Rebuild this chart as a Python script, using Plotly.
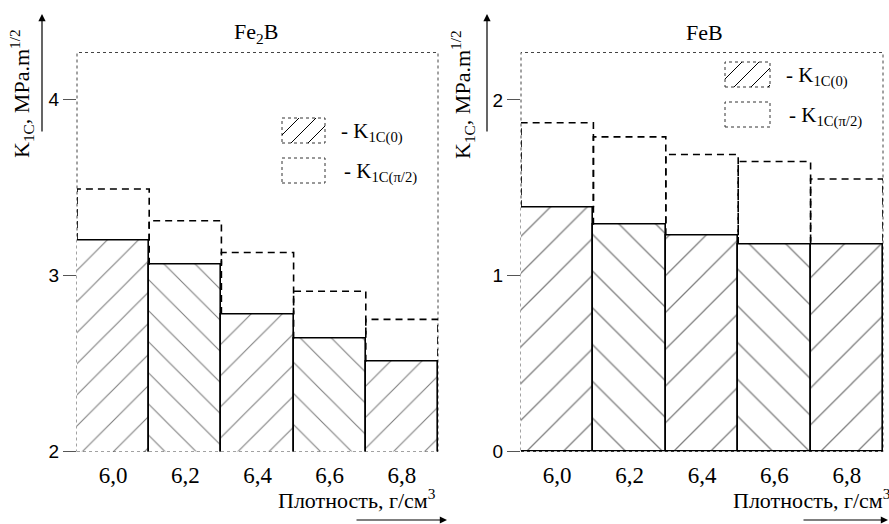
import plotly.graph_objects as go

# ---- data ----
density = [6.0, 6.2, 6.4, 6.6, 6.8]
density_labels = ["6,0", "6,2", "6,4", "6,6", "6,8"]
fe2b_k0 = [3.20, 3.06, 2.78, 2.64, 2.51]
fe2b_kpi2 = [3.49, 3.31, 3.13, 2.91, 2.75]
feb_k0 = [1.39, 1.29, 1.23, 1.18, 1.18]
feb_kpi2 = [1.87, 1.79, 1.69, 1.65, 1.55]
hatches = ["/", "\\", "/", "\\", "/"]
bar_w = 0.2

W, H = 889, 524
SERIF = "Liberation Serif"
SANS = "Liberation Sans"

def px(x):
    return x / W

def py(y):
    return 1 - y / H

fig = go.Figure()

def add_panel(k0, kpi, xa, ya, hsize):
    fig.add_trace(go.Bar(
        x=density, y=k0, width=bar_w, xaxis=xa, yaxis=ya,
        marker=dict(color="white",
                    line=dict(color="black", width=1.6),
                    pattern=dict(shape=hatches, fgcolor="black", bgcolor="white",
                                 size=hsize, solidity=0.05, fillmode="overlay")),
        showlegend=False, hoverinfo="skip"))
    xs, ys = [], []
    for c, a, b in zip(density, k0, kpi):
        xs += [c - bar_w / 2, c - bar_w / 2, c + bar_w / 2, c + bar_w / 2, None]
        ys += [a, b, b, a, None]
    fig.add_trace(go.Scatter(
        x=xs, y=ys, mode="lines", xaxis=xa, yaxis=ya,
        line=dict(color="black", width=1.6, dash="7px,5px"),
        showlegend=False, hoverinfo="skip"))

add_panel(fe2b_k0, fe2b_kpi2, "x", "y", 22)
add_panel(feb_k0, feb_kpi2, "x2", "y2", 26)

ydom = [py(451.5), py(52.5)]
xcommon = dict(range=[5.9, 6.9], tickvals=density, ticktext=density_labels,
               showgrid=False, zeroline=False, showline=False, ticks="",
               ticklabelstandoff=7,
               tickfont=dict(family=SERIF, size=23, color="black"), automargin=False)
ycommon = dict(showgrid=False, zeroline=False, showline=False, ticks="outside",
               ticklen=13, tickwidth=1, tickcolor="#555",
               tickfont=dict(family=SANS, size=19, color="black"), automargin=False)

fig.update_layout(
    width=W, height=H, margin=dict(l=0, r=0, t=0, b=0),
    paper_bgcolor="white", plot_bgcolor="white", template="none",
    font=dict(family=SERIF, color="black"),
    bargap=0,
    xaxis=dict(domain=[px(77), px(438)], anchor="y", **xcommon),
    xaxis2=dict(domain=[px(521), px(883)], anchor="y2", **xcommon),
    yaxis=dict(domain=ydom, anchor="x", range=[2, 4.265], tickvals=[2, 3, 4], **ycommon),
    yaxis2=dict(domain=ydom, anchor="x2", range=[0, 2.27], tickvals=[0, 1, 2], **ycommon),
)

shapes = []
annotations = []

def note(text, x, y, xanchor="center", yanchor="middle", size=22, angle=0):
    annotations.append(dict(text=text, x=px(x), y=py(y), xref="paper", yref="paper",
                            xanchor=xanchor, yanchor=yanchor, textangle=angle,
                            showarrow=False,
                            font=dict(family=SERIF, size=size, color="black")))

# frames
for x0, x1 in [(77, 438), (521, 883)]:
    shapes.append(dict(type="rect", xref="paper", yref="paper",
                       x0=px(x0), x1=px(x1), y0=ydom[0], y1=ydom[1],
                       line=dict(color="#444", width=1, dash="dot"), layer="below"))

# titles
note("Fe<sub>2</sub>B", 256, 33, size=22)
note("FeB", 704, 33, size=22)

# y titles + arrows
for xc, xa in [(21, 42), (462, 487)]:
    note("K<sub>1C</sub>, MPa.m<sup>1/2</sup>", xc, 94, size=22, angle=-90)
    annotations.append(dict(text="", x=px(xa), y=py(14), xref="paper", yref="paper",
                            ax=0, ay=119, axref="pixel", ayref="pixel",
                            showarrow=True, arrowhead=2, arrowsize=1.2, arrowwidth=1.2,
                            arrowcolor="black"))

# x titles + arrows
for xr, a0, a1 in [(438, 355, 447), (893, 802, 888)]:
    note("Плотность, г/см<sup>3</sup>", xr, 499, xanchor="right", size=22)
    annotations.append(dict(text="", x=px(a1), y=py(520), xref="paper", yref="paper",
                            ax=a0 - a1, ay=0, axref="pixel", ayref="pixel",
                            showarrow=True, arrowhead=2, arrowsize=1.2, arrowwidth=1.2,
                            arrowcolor="black"))

# legends (manual swatches)
def clip_hatch(x0, y0, x1, y1, step=14):
    segs = []
    h = y1 - y0
    k = -h
    while k < (x1 - x0):
        t0 = max(0, -k)
        t1 = min(h, (x1 - x0) - k)
        if t1 > t0:
            segs.append((x0 + k + t0, y1 - t0, x0 + k + t1, y1 - t1))
        k += step
    return segs

for (bx0, bx1, by0, by1, by2, by3, tx) in [(282, 325, 118, 143, 158, 183, 339),
                                           (725, 770, 62, 87, 102, 127, 784)]:
    shapes.append(dict(type="rect", xref="paper", yref="paper",
                       x0=px(bx0), x1=px(bx1), y0=py(by1), y1=py(by0),
                       line=dict(color="#333", width=1, dash="dot"), fillcolor="white"))
    for (sx0, sy0, sx1, sy1) in clip_hatch(bx0, by0, bx1, by1, step=17):
        shapes.append(dict(type="line", xref="paper", yref="paper",
                           x0=px(sx0), y0=py(sy0), x1=px(sx1), y1=py(sy1),
                           line=dict(color="black", width=1)))
    shapes.append(dict(type="rect", xref="paper", yref="paper",
                       x0=px(bx0), x1=px(bx1), y0=py(by3), y1=py(by2),
                       line=dict(color="#333", width=1, dash="dot"), fillcolor="white"))
    note("- K<sub>1C(0)</sub>", tx, (by0 + by1) / 2 + 2, xanchor="left", size=21)
    note("- K<sub>1C(π/2)</sub>", tx + 3, (by2 + by3) / 2 + 2, xanchor="left", size=21)

fig.update_layout(shapes=shapes, annotations=annotations)
fig.write_html("out.html")
